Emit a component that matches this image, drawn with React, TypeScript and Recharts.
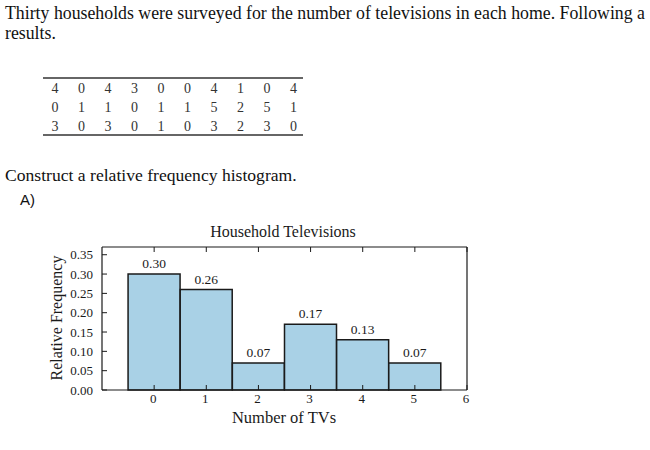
import { Bar, BarChart, LabelList, XAxis, YAxis } from "recharts";

// survey answers (table rows) and the histogram
const SURVEY_ROWS = [
  [4, 0, 4, 3, 0, 0, 4, 1, 0, 4],
  [0, 1, 1, 0, 1, 1, 5, 2, 5, 1],
  [3, 0, 3, 0, 1, 0, 3, 2, 3, 0],
];
const TV_COUNTS = [0, 1, 2, 3, 4, 5];
const REL_FREQ = [0.3, 0.26, 0.07, 0.17, 0.13, 0.07];
const X_TICKS = [0, 1, 2, 3, 4, 5, 6];
const Y_TICKS = [0, 0.05, 0.1, 0.15, 0.2, 0.25, 0.3, 0.35];

const data = TV_COUNTS.map((tv, i) => ({ tv, freq: REL_FREQ[i] }));

const TIMES = "'Liberation Serif', 'Times New Roman', serif";
const INK = "#1a1a1a";
const BAR_FILL = "#a9d1e6";
const serif = (size: number, fill = INK) => ({ fontFamily: TIMES, fontSize: size, fill });

// ticks point inward (matplotlib classic look)
const BottomTick = ({ x, y, payload }: any) => (
  <g>
    <line x1={x} x2={x} y1={y} y2={y - 5} stroke={INK} strokeWidth={1} />
    <text x={x - 1} y={y + 13} textAnchor="middle" style={serif(13)}>
      {payload.value}
    </text>
  </g>
);
const TopTick = ({ x, y }: any) => (
  <line x1={x} x2={x} y1={y} y2={y + 5} stroke={INK} strokeWidth={1} />
);
const LeftTick = ({ x, y, payload }: any) => (
  <g>
    <line x1={x} x2={x + 5} y1={y} y2={y} stroke={INK} strokeWidth={1} />
    <text x={x - 9} y={y + 4.5} textAnchor="end" style={serif(13)}>
      {Number(payload.value).toFixed(2)}
    </text>
  </g>
);
const RightTick = ({ x, y }: any) => (
  <line x1={x} x2={x - 5} y1={y} y2={y} stroke={INK} strokeWidth={1} />
);

const abs = (left: number, top: number, extra: any = {}) => ({
  position: "absolute" as const,
  left,
  top,
  whiteSpace: "nowrap" as const,
  ...extra,
});

export default function App() {
  return (
    <div
      style={{
        position: "absolute",
        left: 0,
        top: 0,
        width: 650,
        height: 450,
        overflow: "hidden",
        background: "#fff",
        fontFamily: TIMES,
        color: "#111",
      }}
    >
      <div style={abs(5, 3, { fontSize: 17.8, lineHeight: "20px" })}>
        Thirty households were surveyed for the number of televisions in each home. Following a
      </div>
      <div style={abs(5, 23, { fontSize: 17.8, lineHeight: "20px" })}>results.</div>

      <svg style={abs(0, 60)} width={330} height={90}>
        <line x1={43} x2={303} y1={18} y2={18} stroke="#333" strokeWidth={1.3} />
        <line x1={43} x2={303} y1={75} y2={75} stroke="#333" strokeWidth={1.3} />
        {SURVEY_ROWS.map((row, r) =>
          row.map((v, c) => (
            <text
              key={`${r}-${c}`}
              x={55 + c * 26.5}
              y={32.5 + r * 19.3}
              textAnchor="middle"
              style={serif(14, "#333")}
            >
              {v}
            </text>
          )),
        )}
      </svg>

      <div style={abs(5, 165, { fontSize: 17.6, lineHeight: "20px" })}>
        Construct a relative frequency histogram.
      </div>
      <div style={abs(20, 191, { fontSize: 15, lineHeight: "18px", fontFamily: "'Liberation Sans', Arial, sans-serif" })}>
        A)
      </div>

      <div style={abs(283, 232, { transform: "translate(-50%, -50%)", fontSize: 16, color: INK })}>
        Household Televisions
      </div>
      <div style={abs(284, 418, { transform: "translate(-50%, -50%)", fontSize: 16.5, lineHeight: "18px", color: INK })}>
        Number of TVs
      </div>
      <div
        style={abs(57, 318, {
          transform: "translate(-50%, -50%) rotate(-90deg)",
          fontSize: 16,
          color: INK,
        })}
      >
        Relative Frequency
      </div>

      <div style={abs(0, 215)}>
        <BarChart
          width={650}
          height={235}
          data={data}
          barCategoryGap={0}
          barGap={0}
          margin={{ top: 22, right: 173, bottom: 20, left: 42 }}
        >
          <XAxis
            xAxisId="bottom"
            dataKey="tv"
            type="number"
            domain={[-1, 6]}
            ticks={X_TICKS}
            interval={0}
            height={40}
            tickSize={0}
            tickMargin={0}
            tickLine={false}
            axisLine={{ stroke: INK, strokeWidth: 1.2 }}
            tick={<BottomTick />}
          />
          <XAxis
            xAxisId="top"
            orientation="top"
            dataKey="tv"
            type="number"
            domain={[-1, 6]}
            ticks={X_TICKS}
            interval={0}
            height={10}
            tickSize={0}
            tickMargin={0}
            tickLine={false}
            axisLine={{ stroke: INK, strokeWidth: 1.2 }}
            tick={<TopTick />}
          />
          <YAxis
            yAxisId="left"
            type="number"
            domain={[0, 0.37]}
            ticks={Y_TICKS}
            interval={0}
            width={60}
            tickSize={0}
            tickMargin={0}
            tickLine={false}
            axisLine={{ stroke: INK, strokeWidth: 1.2 }}
            tick={<LeftTick />}
          />
          <YAxis
            yAxisId="right"
            orientation="right"
            type="number"
            domain={[0, 0.37]}
            ticks={Y_TICKS}
            interval={0}
            width={10}
            tickSize={0}
            tickMargin={0}
            tickLine={false}
            axisLine={{ stroke: INK, strokeWidth: 1.2 }}
            tick={<RightTick />}
          />
          <Bar
            xAxisId="bottom"
            yAxisId="left"
            dataKey="freq"
            fill={BAR_FILL}
            stroke={INK}
            strokeWidth={1.5}
            isAnimationActive={false}
          >
            <LabelList
              dataKey="freq"
              position="top"
              offset={6}
              formatter={(v: any) => Number(v).toFixed(2)}
              style={{ fontSize: 13.5, fontFamily: TIMES, fill: INK }}
            />
          </Bar>
        </BarChart>
      </div>
    </div>
  );
}
